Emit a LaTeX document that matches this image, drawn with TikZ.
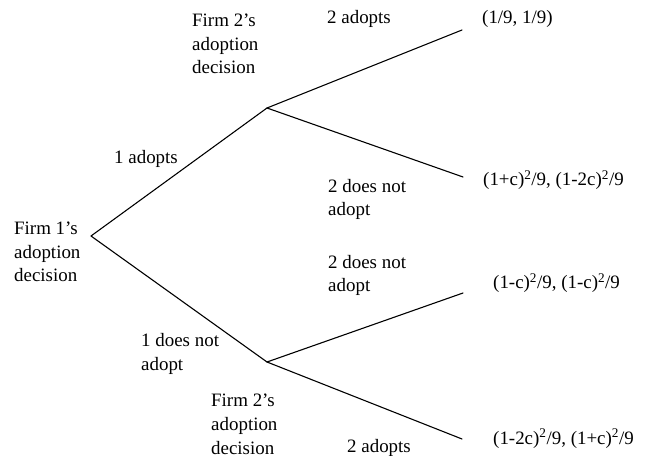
\documentclass[tikz,border=0pt]{standalone}
\usepackage{fontspec}
\setmainfont{Liberation Serif}
\begin{document}
\begin{tikzpicture}[x=1bp,y=-1bp,
  branch/.style={line width=1.1bp, line cap=round},
  lbl/.style={anchor=base west, inner sep=0pt, align=left, font=\fontsize{19}{24}\selectfont},
]
\useasboundingbox (0,0) rectangle (646,456);
% tree points
\coordinate (root) at (91,236);
\coordinate (up) at (267,108);
\coordinate (lo) at (267,362);
\coordinate (uu) at (462,30);
\coordinate (ul) at (463,177);
\coordinate (lu) at (463,293);
\coordinate (ll) at (462,439);
% branches
\draw[branch] (root) -- (up);
\draw[branch] (root) -- (lo);
\draw[branch] (up) -- (uu);
\draw[branch] (up) -- (ul);
\draw[branch] (lo) -- (lu);
\draw[branch] (lo) -- (ll);
% labels (anchor = baseline of the last line)
\node[lbl] (f1) at (14,282) {Firm 1’s\\adoption\\decision};
\node[lbl] (f2u) at (192,74) {Firm 2’s\\adoption\\decision};
\node[lbl] (f2l) at (211,454) {Firm 2’s\\adoption\\decision};
\node[lbl] (a1) at (114,164) {1 adopts};
\node[lbl] (n1) at (141,370) {1 does not\\adopt};
\node[lbl] (a2u) at (327,24) {2 adopts};
\node[lbl] (n2u) at (328,216) {2 does not\\adopt};
\node[lbl] (n2l) at (328,292) {2 does not\\adopt};
\node[lbl] (a2l) at (347,452) {2 adopts};
\node[lbl] (p1) at (482,24) {(1/9, 1/9)};
\node[lbl] (p2) at (483,186) {(1+c)\textsuperscript{2}/9, (1-2c)\textsuperscript{2}/9};
\node[lbl] (p3) at (493,289) {(1-c)\textsuperscript{2}/9, (1-c)\textsuperscript{2}/9};
\node[lbl] (p4) at (493,444) {(1-2c)\textsuperscript{2}/9, (1+c)\textsuperscript{2}/9};
\end{tikzpicture}
\end{document}
